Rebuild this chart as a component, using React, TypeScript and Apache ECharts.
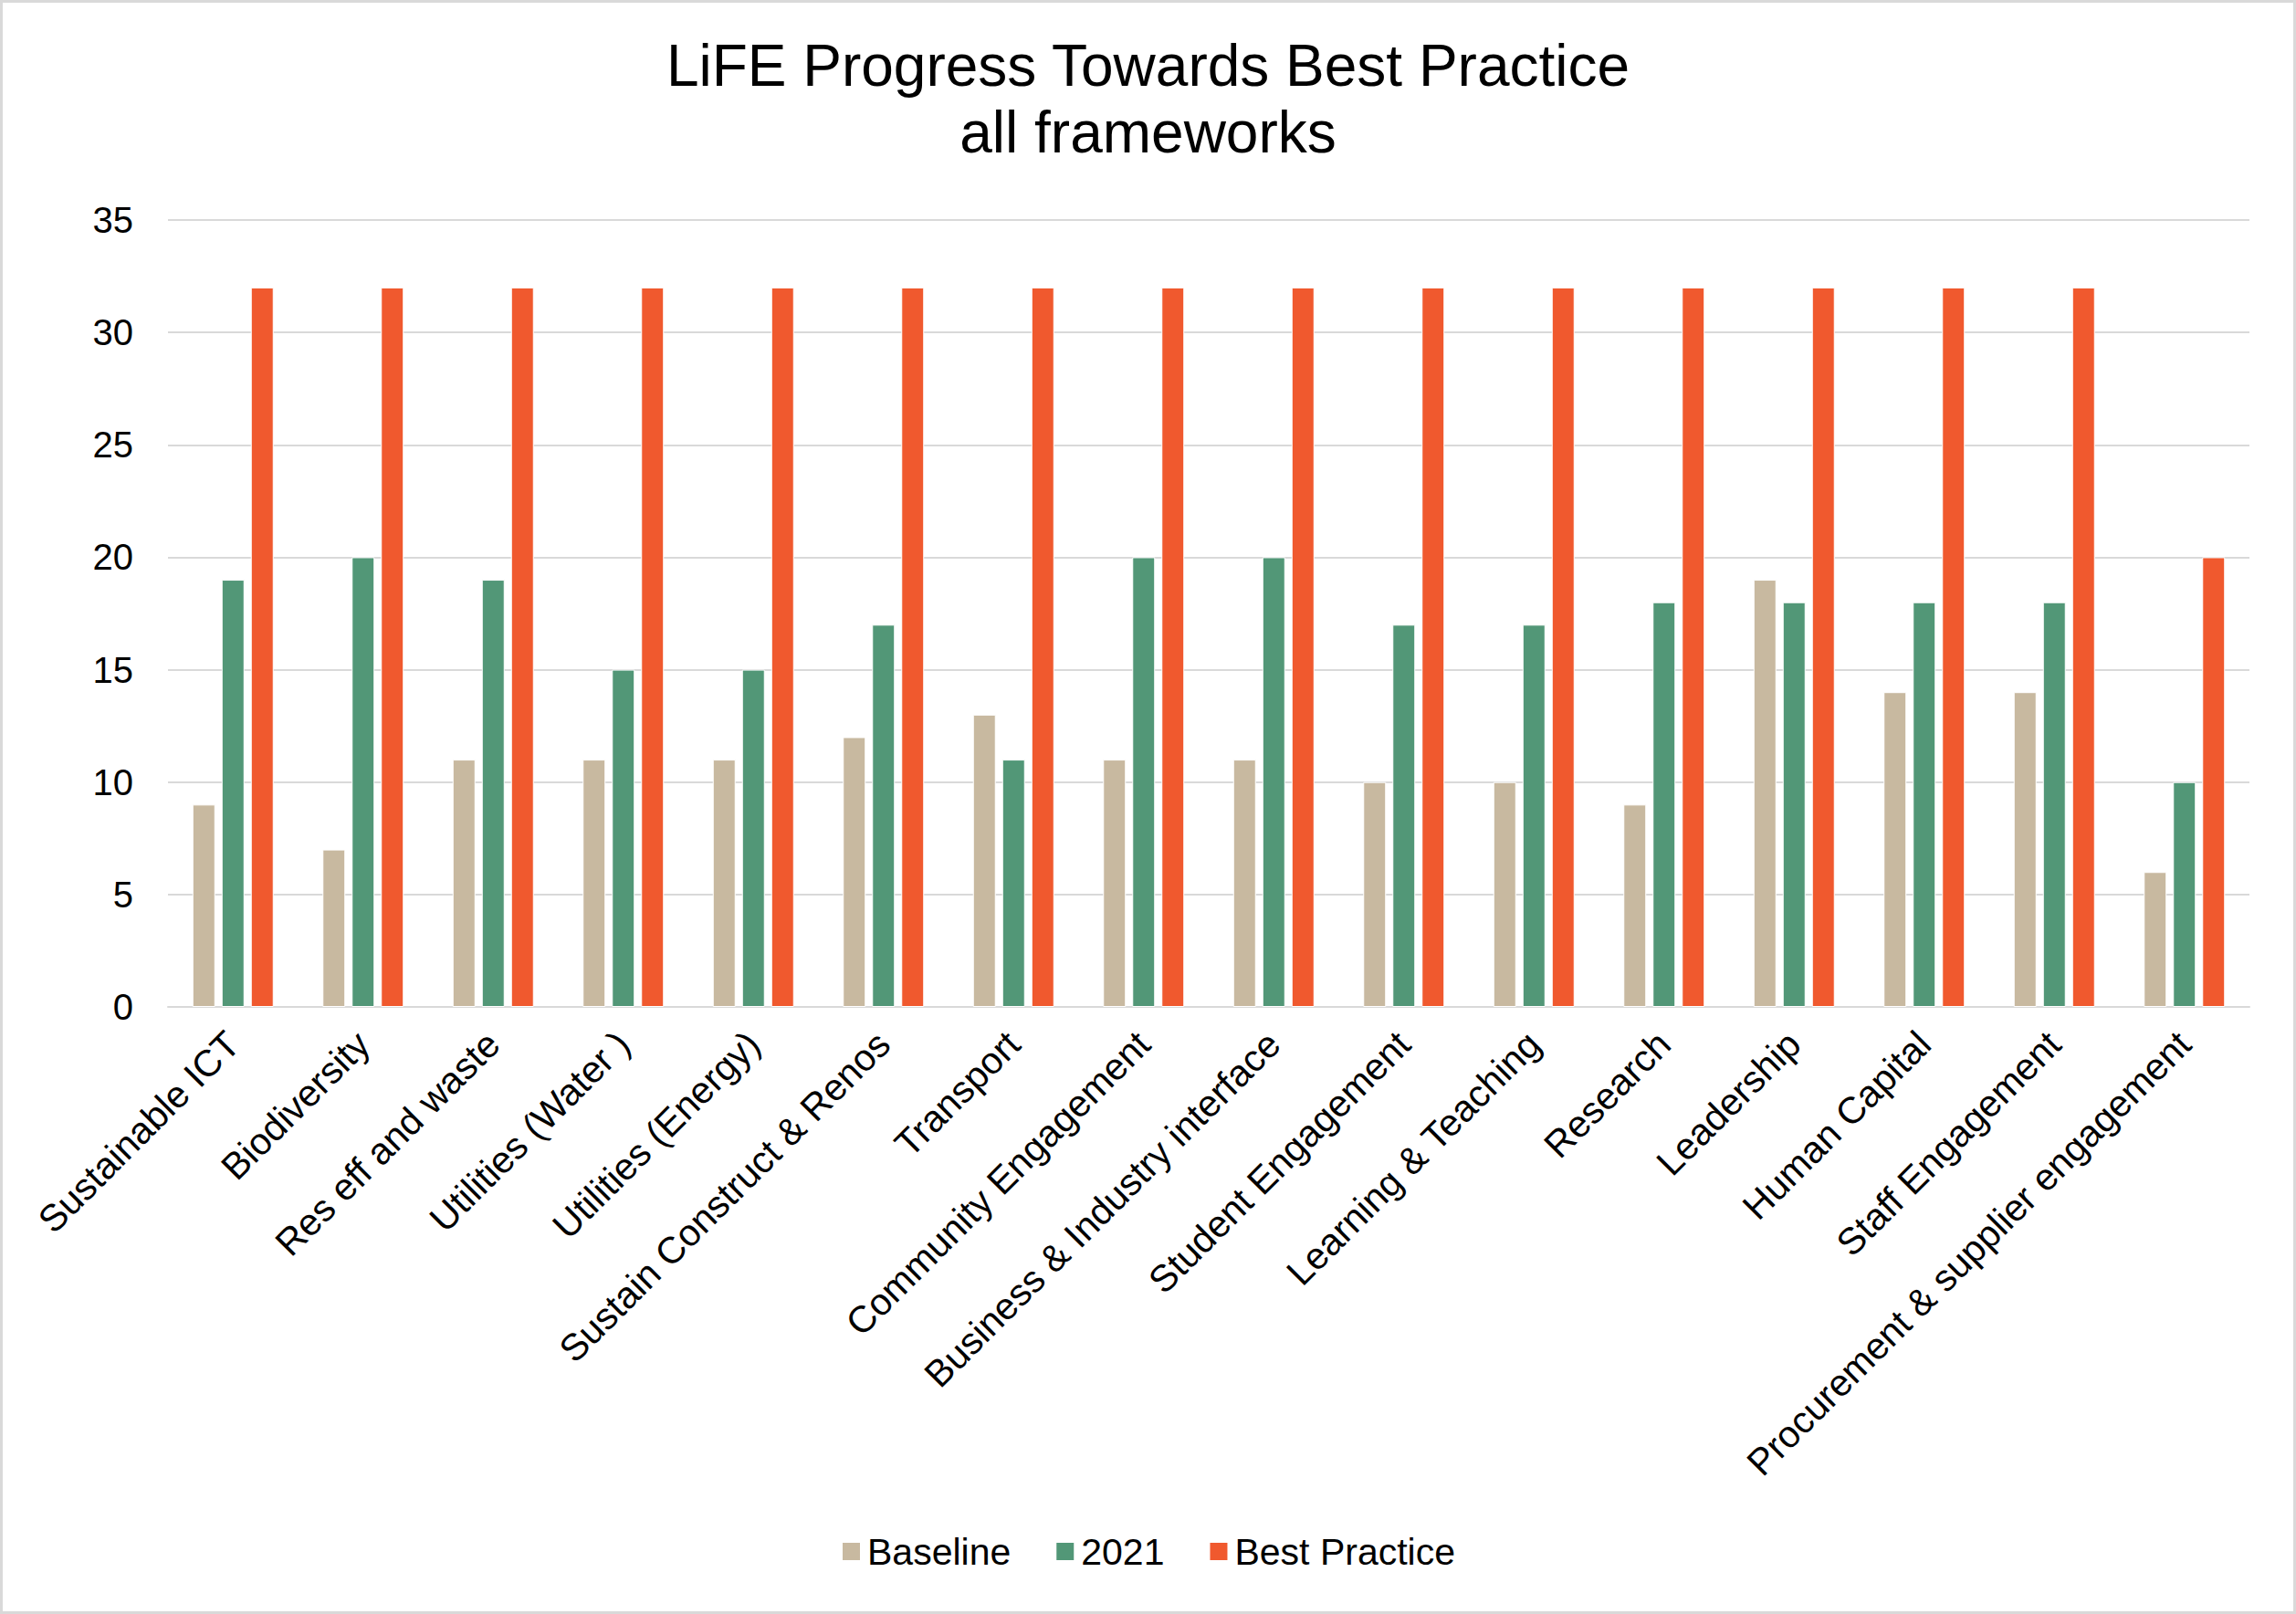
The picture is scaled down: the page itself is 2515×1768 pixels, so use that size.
import React, { useEffect, useRef } from "react";
import * as echarts from "echarts";

const categories = [
  "Sustainable ICT",
  "Biodiversity",
  "Res eff and waste",
  "Utilities (Water )",
  "Utilities (Energy)",
  "Sustain Construct & Renos",
  "Transport",
  "Community Engagement",
  "Business & Industry interface",
  "Student Engagement",
  "Learning & Teaching",
  "Research",
  "Leadership",
  "Human Capital",
  "Staff Engagement",
  "Procurement & supplier engagement",
];
const baseline = [9, 7, 11, 11, 11, 12, 13, 11, 11, 10, 10, 9, 19, 14, 14, 6];
const y2021 = [19, 20, 19, 15, 15, 17, 11, 20, 20, 17, 17, 18, 18, 18, 18, 10];
const bestPractice = [32, 32, 32, 32, 32, 32, 32, 32, 32, 32, 32, 32, 32, 32, 32, 20];
const yTicks = { min: 0, max: 35, interval: 5 };

const FONT = "'Liberation Sans', Arial, sans-serif";

export default function App() {
  const ref = useRef<HTMLDivElement>(null);
  useEffect(() => {
    if (!ref.current) return;
    const chart = echarts.init(ref.current, undefined, { renderer: "svg" });
    const barStyle = (color: string) => ({
      color,
      borderColor: "#ffffff",
      borderWidth: 1,
    });
    chart.setOption({
      animation: false,
      backgroundColor: "#ffffff",
      textStyle: { fontFamily: FONT },
      title: {
        text: "LiFE Progress Towards Best Practice\nall frameworks",
        left: "center",
        top: 30,
        textStyle: {
          fontFamily: FONT,
          fontSize: 64,
          fontWeight: "normal",
          color: "#000000",
          lineHeight: 73,
        },
      },
      legend: {
        top: 1674,
        left: "center",
        itemWidth: 21,
        itemHeight: 21,
        itemGap: 48,
        icon: "rect",
        textStyle: { fontFamily: FONT, fontSize: 41, color: "#000000", padding: [0, 0, 0, 2] },
        data: ["Baseline", "2021", "Best Practice"],
      },
      grid: { left: 184, right: 51, top: 241, bottom: 665, containLabel: false },
      xAxis: {
        type: "category",
        data: categories,
        axisLine: { lineStyle: { color: "#D9D9D9", width: 2 } },
        axisTick: { show: false },
        axisLabel: {
          rotate: 45,
          interval: 0,
          margin: 34,
          fontFamily: FONT,
          fontSize: 41,
          color: "#000000",
        },
      },
      yAxis: {
        type: "value",
        min: yTicks.min,
        max: yTicks.max,
        interval: yTicks.interval,
        axisLine: { show: false },
        axisTick: { show: false },
        splitLine: { lineStyle: { color: "#D9D9D9", width: 2 } },
        axisLabel: { margin: 38, fontFamily: FONT, fontSize: 40, color: "#000000" },
      },
      series: [
        { name: "Baseline", type: "bar", data: baseline, barWidth: 25, barGap: "28%", itemStyle: barStyle("#C8B9A0") },
        { name: "2021", type: "bar", data: y2021, barWidth: 25, barGap: "28%", itemStyle: barStyle("#529777") },
        { name: "Best Practice", type: "bar", data: bestPractice, barWidth: 25, barGap: "28%", itemStyle: barStyle("#F0592E") },
      ],
      graphic: [
        {
          type: "rect",
          shape: { x: 1.5, y: 1.5, width: 2512, height: 1765 },
          style: { fill: "none", stroke: "#D9D9D9", lineWidth: 3 },
          silent: true,
        },
      ],
    });
    return () => chart.dispose();
  }, []);
  return (
    <div
      ref={ref}
      style={{ position: "fixed", left: 0, top: 0, width: 2515, height: 1768 }}
    />
  );
}
